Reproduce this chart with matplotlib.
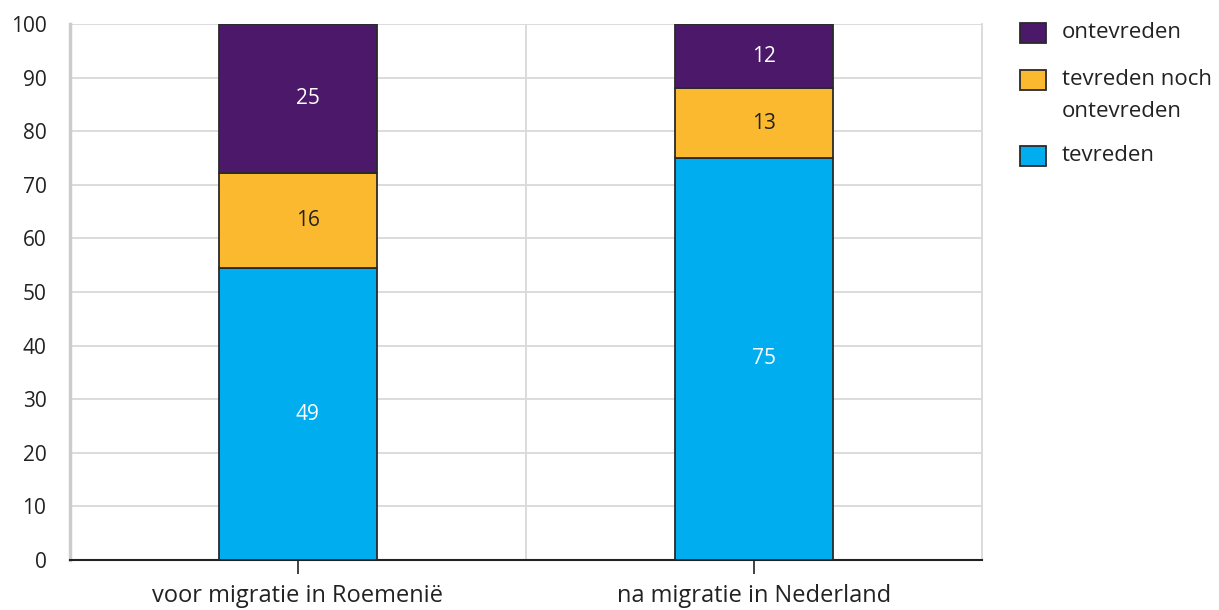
import matplotlib
matplotlib.use("Agg")
import matplotlib.pyplot as plt
from matplotlib.patches import Rectangle
import numpy as np

categories = ["voor migratie in Roemenië", "na migratie in Nederland"]
series_names = ["tevreden", "tevreden noch\nontevreden", "ontevreden"]
tevreden = [49, 75]
neutraal = [16, 13]
ontevreden = [25, 12]
yticks = [0, 10, 20, 30, 40, 50, 60, 70, 80, 90, 100]

colors = ["#00AEEF", "#FBB92F", "#4B186A"]
text_colors = ["white", "#222222", "white"]

plt.rcParams['font.family'] = ['Open Sans', 'DejaVu Sans']

W, H = 1219, 610
fig = plt.figure(figsize=(W/100, H/100), dpi=100)
ax = fig.add_axes([70/W, 50/H, 912/W, 536/H])

data = np.array([tevreden, neutraal, ontevreden], dtype=float)
totals = data.sum(axis=0)
shares = data / totals * 100

x = np.arange(len(categories))
bottom = np.zeros(len(categories))
for i in range(3):
    bars = ax.bar(x, shares[i], bottom=bottom, width=0.345, color=colors[i],
                  edgecolor="#2a2a2a", linewidth=1.3, zorder=3)
    for j, b in enumerate(bars):
        ax.annotate(str(int(data[i][j])), (b.get_x() + b.get_width()/2, bottom[j] + shares[i][j]/2),
                    xytext=(7, 0), textcoords="offset points",
                    ha="center", va="center", color=text_colors[i], fontsize=15, zorder=4)
    bottom += shares[i]

ax.set_xlim(-0.5, 1.5)
ax.set_ylim(0, 100)
ax.set_yticks(yticks)
ax.set_yticklabels([str(v) for v in yticks], fontsize=15, color="#222222")
ax.set_xticks(x)
ax.set_xticklabels(categories, fontsize=17, color="#222222")
ax.tick_params(axis="y", length=0, pad=17)
ax.tick_params(axis="x", length=10, width=1.2, color="#222222", pad=7)

ax.set_xticks([0.5], minor=True)
ax.tick_params(axis="x", which="minor", length=0)
ax.grid(axis="y", color="#d9d9d9", linewidth=1.3, zorder=0)
ax.grid(axis="x", which="minor", color="#d9d9d9", linewidth=1.3, zorder=0)
ax.set_axisbelow(True)

ax.spines["top"].set_visible(False)
ax.spines["right"].set_color("#d9d9d9")
ax.spines["right"].set_linewidth(1.3)
ax.spines["left"].set_color("#cccccc")
ax.spines["left"].set_linewidth(2.5)
ax.spines["bottom"].set_color("#222222")
ax.spines["bottom"].set_linewidth(1.5)

# legend (manual, so the square sits beside the first line of a wrapped label)
legend_rows = [(2, 33), (1, 80), (0, 156)]
for idx, yc in legend_rows:
    fig.add_artist(Rectangle((1020/W, 1 - (yc + 9.5)/H), 26/W, 19/H,
                             facecolor=colors[idx], edgecolor="#2a2a2a", linewidth=1.3,
                             transform=fig.transFigure))
    fig.text(1062/W, 1 - (yc - 11)/H, series_names[idx], fontsize=16, color="#222222",
             ha="left", va="top", linespacing=1.7)

fig.savefig("out.png", dpi=100)
